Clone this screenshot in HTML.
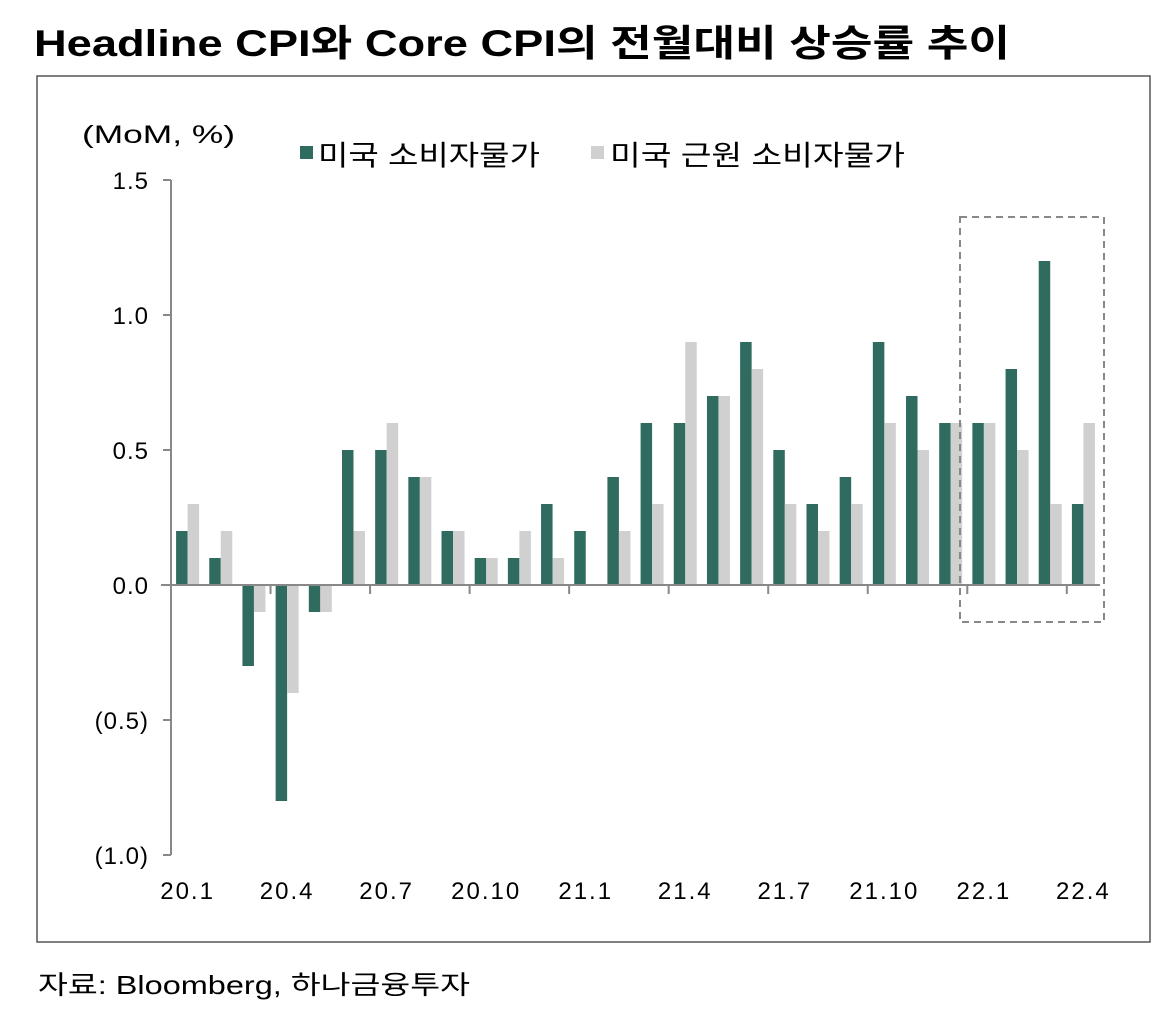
<!DOCTYPE html>
<html><head><meta charset="utf-8"><style>
body{margin:0;background:#fff;width:1166px;height:1022px;overflow:hidden;font-family:"Liberation Sans","Noto Sans CJK KR",sans-serif;}
</style></head><body>
<svg width="1166" height="1022" xmlns="http://www.w3.org/2000/svg" font-family="'Liberation Sans','Noto Sans CJK KR',sans-serif">
<text x="34" y="56" font-size="37" font-weight="bold" fill="#000" textLength="976" lengthAdjust="spacingAndGlyphs">Headline CPI와 Core CPI의 전월대비 상승률 추이</text>
<rect x="37" y="76" width="1113" height="866" fill="none" stroke="#555" stroke-width="1.5"/>
<text x="82" y="143" font-size="25" fill="#000" textLength="153" lengthAdjust="spacingAndGlyphs">(MoM, %)</text>
<rect x="300" y="146" width="13" height="13" fill="#2f6b5f"/>
<text x="318" y="165" font-size="28" fill="#000" textLength="222" lengthAdjust="spacingAndGlyphs">미국 소비자물가</text>
<rect x="591" y="146" width="13" height="13" fill="#d0d0d0"/>
<text x="610" y="165" font-size="28" fill="#000" textLength="295" lengthAdjust="spacingAndGlyphs">미국 근원 소비자물가</text>
<g id="plot"></g>
<rect x="960" y="217" width="144" height="405" fill="none" stroke="#888" stroke-width="2" stroke-dasharray="7,5"/>
<text x="38" y="994" font-size="26" fill="#000" textLength="432" lengthAdjust="spacingAndGlyphs">자료: Bloomberg, 하나금융투자</text>
</svg>
<script>
const categories=["20.1","20.2","20.3","20.4","20.5","20.6","20.7","20.8","20.9","20.10","20.11","20.12","21.1","21.2","21.3","21.4","21.5","21.6","21.7","21.8","21.9","21.10","21.11","21.12","22.1","22.2","22.3","22.4"];
const headline=[0.2,0.1,-0.3,-0.8,-0.1,0.5,0.5,0.4,0.2,0.1,0.1,0.3,0.2,0.4,0.6,0.6,0.7,0.9,0.5,0.3,0.4,0.9,0.7,0.6,0.6,0.8,1.2,0.3];
const core=[0.3,0.2,-0.1,-0.4,-0.1,0.2,0.6,0.4,0.2,0.1,0.2,0.1,0.0,0.2,0.3,0.9,0.7,0.8,0.3,0.2,0.3,0.6,0.5,0.6,0.6,0.5,0.3,0.6];
const yTicks=[1.5,1.0,0.5,0.0,-0.5,-1.0];
const yTickLabels=["1.5","1.0","0.5","0.0","(0.5)","(1.0)"];
const xLabelIdx=[0,3,6,9,12,15,18,21,24,27];
const NS="http://www.w3.org/2000/svg";
const g=document.getElementById('plot');
const x0=171,x1=1100,step=(x1-x0)/categories.length;
const y=v=>585-v*270;
const xc=i=>x0+step*(i+0.5);
function mk(t,a){const e=document.createElementNS(NS,t);for(const k in a)e.setAttribute(k,a[k]);g.appendChild(e);return e;}
let ax=mk('line',{x1:x0,y1:y(1.5),x2:x0,y2:y(-1.0),stroke:'#888','stroke-width':2});


yTicks.forEach((v,i)=>{
 const t=mk('line',{x1:x0-8,y1:y(v),x2:x0,y2:y(v),stroke:'#888','stroke-width':2});
 
 
 const l=mk('text',{x:x0-22,y:y(v)+9,'text-anchor':'end','font-size':24,'letter-spacing':1,fill:'#000'});
 l.textContent=yTickLabels[i];
 
 
});
categories.forEach((c,i)=>{
 const bw=11.5;
 const h=headline[i],k=core[i];
 const b1=mk('rect',{x:xc(i)-bw,y:Math.min(y(h),y(0)),width:bw,height:Math.abs(y(h)-y(0)),fill:'#2f6b5f'});
 
 
 const b2=mk('rect',{x:xc(i),y:Math.min(y(k),y(0)),width:bw,height:Math.abs(y(k)-y(0)),fill:'#d0d0d0'});
 
 
});
let xa=mk('line',{x1:x0-10,y1:y(0),x2:x1,y2:y(0),stroke:'#888','stroke-width':2});


for(let i=3;i<categories.length;i+=3){
 const t=mk('line',{x1:x0+step*i,y1:y(0),x2:x0+step*i,y2:y(0)+9,stroke:'#888','stroke-width':2});
 
 
}
xLabelIdx.forEach(i=>{
 const l=mk('text',{x:xc(i),y:899,'text-anchor':'middle','font-size':24,'letter-spacing':2,fill:'#000'});
 l.textContent=categories[i];
 
 
});
</script>
</body></html>
